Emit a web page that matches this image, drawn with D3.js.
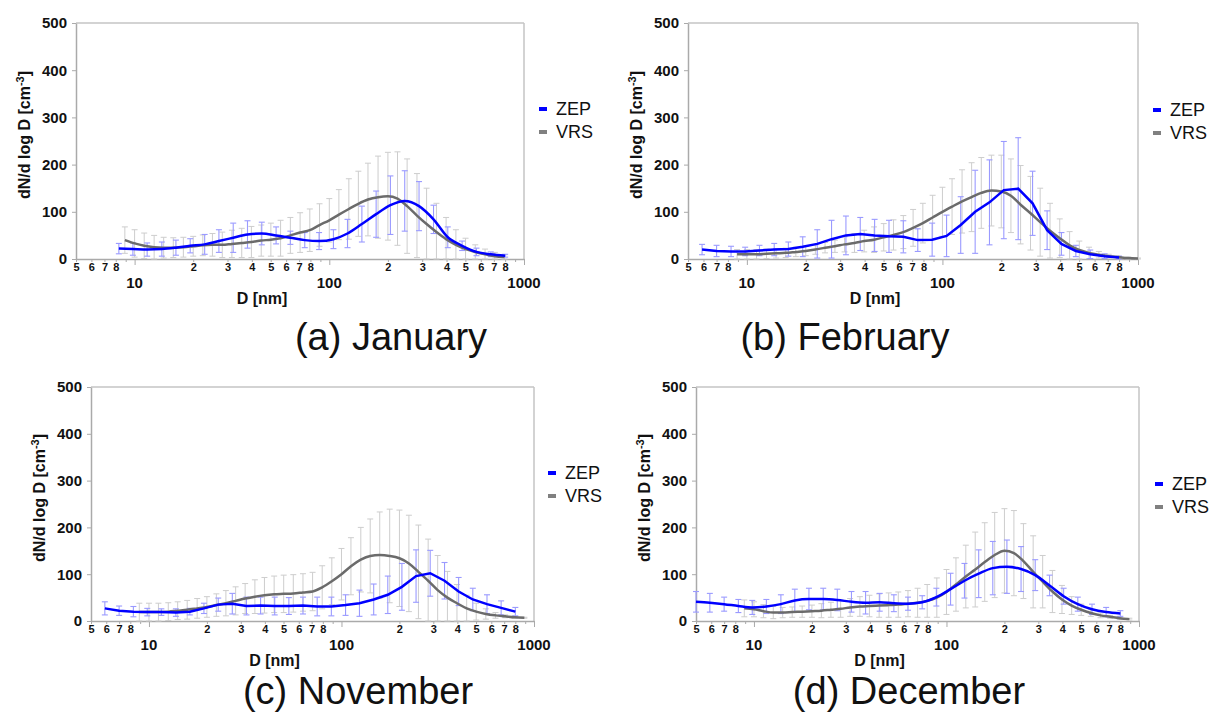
<!DOCTYPE html>
<html>
<head>
<meta charset="utf-8">
<script src="https://cdn.jsdelivr.net/npm/d3@7"></script>
<style>
body { margin: 0; background: #fff; }
svg text { font-family: "Liberation Sans", Arial, sans-serif; }
</style>
</head>
<body>
<div id="main_chart"></div>
<script>
// diameter bins [nm]
var zepD = [5.0, 5.9, 7.0, 8.3, 9.8, 11.6, 13.8, 16.3, 19.3, 22.9, 27.1, 32.1, 38.0, 45.0, 53.3, 63.1, 74.8, 88.6, 105, 124, 147, 174, 206, 244, 289, 343, 406, 481, 570, 675, 800];
var vrsD = [8.91, 10, 11.2, 12.6, 14.1, 15.8, 17.8, 20, 22.4, 25.1, 28.2, 31.6, 35.5, 39.8, 44.7, 50.1, 56.2, 63.1, 70.8, 79.4, 89.1, 100, 112, 126, 141, 158, 178, 200, 224, 251, 282, 316, 355, 398, 447, 501, 562, 631, 708, 794, 891, 1000];

// January
var janZepMean = [null, null, null, 22, 21, 20, 21, 24, 28, 31, 38, 45, 52, 54, 50, 45, 40, 38, 42, 54, 74, 95, 114, 123, 112, 84, 46, 28, 15, 10, 7];
var janZepSd = [null, null, null, 11, 13, 14, 15, 16, 15, 21, 24, 31, 29, 24, 18, 14, 16, 18, 20, 30, 38, 49, 62, 64, 52, 30, 22, 10, 8, 5, 3];
var janVrsMean = [40, 33, 28, 25, 24, 24, 25, 27, 29, 30, 30, 32, 34, 36, 39, 41, 44, 50, 56, 61, 72, 82, 94, 106, 117, 126, 131, 133, 128, 112, 92, 74, 57, 42, 30, 21, 15, 10, 6, 4, null, null];
var janVrsSd = [28, 29, 27, 25, 22, 21, 21, 21, 22, 24, 27, 29, 31, 33, 33, 35, 38, 38, 42, 45, 45, 46, 53, 64, 69, 77, 87, 93, 99, 100, 89, 76, 61, 46, 32, 23, 15, 11, 8, 5, null, null];

// February
var febZepMean = [null, 20, 17, 16, 16, 18, 20, 21, 26, 32, 42, 50, 53, 50, 48, 47, 40, 41, 49, 72, 100, 120, 146, 149, 118, 61, 32, 17, 10, 6, 3];
var febZepSd = [null, 11, 12, 11, 9, 11, 13, 15, 21, 30, 40, 41, 35, 34, 34, 34, 24, 35, 44, 60, 88, 90, 103, 108, 68, 41, 24, 12, 9, 5, 3];
var febVrsMean = [10, 10, 10, 11, 12, 13, 15, 17, 20, 24, 27, 31, 34, 38, 41, 46, 51, 57, 66, 76, 88, 100, 111, 122, 131, 140, 145, 143, 134, 115, 97, 78, 60, 44, 29, 19, 13, 9, 6, 4, 2, 1];
var febVrsSd = [10, 10, 10, 10, 10, 10, 10, 10, 10, 11, 13, 16, 20, 23, 27, 29, 32, 35, 39, 42, 47, 52, 59, 67, 73, 75, 75, 77, 78, 83, 78, 72, 58, 41, 29, 19, 12, 7, 4, 2, 2, 1];

// November
var novZepMean = [null, 27, 22, 20, 19, 19, 18, 20, 27, 35, 37, 32, 33, 32, 32, 33, 31, 31, 34, 38, 46, 56, 73, 96, 102, 86, 63, 46, 36, 28, 20];
var novZepSd = [null, 14, 10, 11, 8, 7, 8, 7, 11, 14, 22, 19, 18, 19, 18, 18, 20, 20, 22, 28, 33, 40, 50, 56, 49, 39, 30, 24, 20, 15, 9];
var novVrsMean = [19, 19, 19, 20, 22, 24, 27, 30, 34, 38, 43, 48, 52, 55, 57, 58, 59, 61, 63, 72, 85, 100, 117, 131, 139, 141, 139, 134, 123, 105, 86, 66, 50, 38, 27, 20, 15, 12, 10, 8, 7, null];
var novVrsSd = [19, 19, 19, 19, 19, 20, 21, 22, 24, 27, 30, 32, 36, 38, 39, 40, 40, 40, 41, 46, 50, 55, 61, 69, 79, 92, 100, 103, 103, 100, 89, 74, 56, 40, 28, 18, 11, 6, 3, 2, 1, null];

// December
var decZepMean = [41, 39, 36, 32, 29, 31, 36, 44, 47, 47, 45, 41, 39, 40, 38, 37, 40, 51, 68, 86, 101, 113, 116, 111, 98, 76, 53, 36, 25, 19, 16];
var decZepSd = [22, 20, 15, 14, 15, 15, 20, 24, 23, 23, 23, 22, 24, 19, 18, 14, 14, 19, 34, 37, 51, 57, 57, 48, 33, 22, 17, 15, 11, 10, 6];
var decVrsMean = [27, 25, 21, 18, 18, 19, 20, 21, 22, 24, 26, 29, 31, 32, 33, 34, 35, 37, 39, 43, 50, 62, 78, 95, 110, 126, 141, 150, 145, 128, 105, 84, 63, 46, 33, 24, 17, 12, 9, 6, 4, null];
var decVrsSd = [18, 16, 14, 13, 11, 11, 12, 13, 15, 16, 18, 19, 21, 23, 25, 26, 27, 28, 31, 35, 42, 48, 57, 67, 80, 84, 91, 90, 91, 80, 77, 56, 45, 30, 19, 12, 7, 5, 3, 3, 2, null];

var seriesNames = ["ZEP", "VRS"];
var yTicks = [0, 100, 200, 300, 400, 500];
var xTicks = [5, 6, 7, 8, 9, 10, 20, 30, 40, 50, 60, 70, 80, 90, 100, 200, 300, 400, 500, 600, 700, 800, 900, 1000];
var majorTicks = [10, 100, 1000];

var zepColor = "#0000ff";
var vrsColor = "#6b6b6b";

var panels = [
	{ caption: "(a) January", zm: janZepMean, zs: janZepSd, vm: janVrsMean, vs: janVrsSd,
		left: 76, right: 524, top: 23, bottom: 259, legX: 539, legY: 109, capX: 391, capY: 350, zepSmooth: true },
	{ caption: "(b) February", zm: febZepMean, zs: febZepSd, vm: febVrsMean, vs: febVrsSd,
		left: 688, right: 1138, top: 23, bottom: 259, legX: 1153, legY: 110, capX: 845, capY: 350, zepSmooth: false },
	{ caption: "(c) November", zm: novZepMean, zs: novZepSd, vm: novVrsMean, vs: novVrsSd,
		left: 91, right: 534, top: 387, bottom: 621, legX: 548, legY: 473, capX: 358, capY: 704, zepSmooth: false },
	{ caption: "(d) December", zm: decZepMean, zs: decZepSd, vm: decVrsMean, vs: decVrsSd,
		left: 696, right: 1139, top: 387, bottom: 621, legX: 1155, legY: 484, capX: 909, capY: 704, zepSmooth: true },
];

var svg = d3.select("#main_chart")
	.append("svg")
	.attr("width", 1216)
	.attr("height", 715);

function toPoints(diams, means, sds) {
	return diams.map(function (d, i) {
		return { d: d, m: means[i], s: sds[i] };
	}).filter(function (p) {
		return p.m != null;
	});
}

function leadDigit(v) {
	var p = Math.pow(10, Math.floor(Math.log10(v) + 1e-9));
	return Math.round(v / p);
}

function drawPanel(p) {
	var g = svg.append("g");
	var x = d3.scaleLog().domain([5, 1000]).range([p.left, p.right]);
	var y = d3.scaleLinear().domain([0, 500]).range([p.bottom, p.top]);

	// frame (top and right)
	g.append("line").attr("x1", p.left).attr("x2", p.right).attr("y1", p.top).attr("y2", p.top)
		.attr("stroke", "#c4c4c4").attr("stroke-width", 1.5);
	g.append("line").attr("x1", p.right).attr("x2", p.right).attr("y1", p.top).attr("y2", p.bottom)
		.attr("stroke", "#c4c4c4").attr("stroke-width", 1.5);

	// y axis
	var yAxis = g.append("g")
		.attr("transform", "translate(" + p.left + ",0)")
		.call(d3.axisLeft(y).tickValues(yTicks).tickSize(4).tickSizeOuter(0).tickPadding(5));
	yAxis.select(".domain").attr("stroke", "#aaa").attr("stroke-width", 1.5);
	yAxis.selectAll(".tick line").attr("stroke", "#aaa");
	yAxis.selectAll(".tick text")
		.attr("font-size", 15).attr("font-weight", "bold").attr("fill", "#111")
		.attr("font-family", "Liberation Sans, Arial, sans-serif");

	// x axis
	var xAxis = g.append("g")
		.attr("transform", "translate(0," + p.bottom + ")")
		.call(d3.axisBottom(x).tickValues(xTicks).tickSize(3).tickSizeOuter(0)
			.tickFormat(function (d) {
				var k = leadDigit(d);
				return k === 1 || k === 9 ? "" : k;
			}));
	xAxis.select(".domain").attr("stroke", "#aaa").attr("stroke-width", 1.5);
	xAxis.selectAll(".tick line")
		.attr("stroke", "#aaa")
		.attr("y2", function (d) { return leadDigit(d) === 1 ? 6 : 3; });
	xAxis.selectAll(".tick text")
		.attr("y", 4)
		.attr("font-size", 11).attr("font-weight", "bold").attr("fill", "#111")
		.attr("font-family", "Liberation Sans, Arial, sans-serif");

	g.selectAll(".major")
		.data(majorTicks)
		.enter()
		.append("text")
		.attr("x", function (d) { return x(d); })
		.attr("y", p.bottom + 29)
		.attr("text-anchor", "middle")
		.attr("font-size", 15).attr("font-weight", "bold").attr("fill", "#111")
		.text(function (d) { return d; });

	// axis titles
	g.append("text")
		.attr("x", (p.left + p.right) / 2 - 38)
		.attr("y", p.bottom + 45)
		.attr("text-anchor", "middle")
		.attr("font-size", 16).attr("font-weight", "bold").attr("fill", "#111")
		.text("D [nm]");

	var yt = g.append("text")
		.attr("transform", "translate(" + (p.left - 46) + "," + ((p.top + p.bottom) / 2 - 6) + ") rotate(-90)")
		.attr("text-anchor", "middle")
		.attr("font-size", 16).attr("font-weight", "bold").attr("fill", "#111");
	yt.append("tspan").text("dN/d log D [cm");
	yt.append("tspan").attr("dy", -6).attr("font-size", 11).text("-3");
	yt.append("tspan").attr("dy", 6).text("]");

	var zep = toPoints(zepD, p.zm, p.zs);
	var vrs = toPoints(vrsD, p.vm, p.vs);

	function errorBars(data, color, width) {
		var bars = g.append("g").selectAll("g").data(data).enter().append("g")
			.attr("stroke", color).attr("stroke-width", width);
		bars.append("line")
			.attr("x1", function (d) { return x(d.d); })
			.attr("x2", function (d) { return x(d.d); })
			.attr("y1", function (d) { return y(Math.max(0, d.m - d.s)); })
			.attr("y2", function (d) { return y(d.m + d.s); });
		bars.append("line")
			.attr("x1", function (d) { return x(d.d) - 3; })
			.attr("x2", function (d) { return x(d.d) + 3; })
			.attr("y1", function (d) { return y(d.m + d.s); })
			.attr("y2", function (d) { return y(d.m + d.s); });
		bars.append("line")
			.attr("x1", function (d) { return x(d.d) - 3; })
			.attr("x2", function (d) { return x(d.d) + 3; })
			.attr("y1", function (d) { return y(Math.max(0, d.m - d.s)); })
			.attr("y2", function (d) { return y(Math.max(0, d.m - d.s)); });
	}

	errorBars(vrs, "#cdcdcd", 1);
	errorBars(zep, "#9a9aff", 1.1);

	var vrsLine = d3.line()
		.x(function (d) { return x(d.d); })
		.y(function (d) { return y(d.m); })
		.curve(d3.curveMonotoneX);
	var zepLine = d3.line()
		.x(function (d) { return x(d.d); })
		.y(function (d) { return y(d.m); })
		.curve(p.zepSmooth ? d3.curveMonotoneX : d3.curveLinear);

	g.append("path").attr("d", vrsLine(vrs))
		.attr("fill", "none").attr("stroke", vrsColor).attr("stroke-width", 2.5);
	g.append("path").attr("d", zepLine(zep))
		.attr("fill", "none").attr("stroke", zepColor).attr("stroke-width", 2.5);

	// legend
	var leg = g.selectAll(".leg").data(seriesNames).enter().append("g")
		.attr("transform", function (d, i) { return "translate(" + p.legX + "," + (p.legY + i * 23) + ")"; });
	leg.append("rect")
		.attr("x", 0).attr("y", -2).attr("width", 8).attr("height", 4)
		.attr("fill", function (d, i) { return i === 0 ? zepColor : "#808080"; });
	leg.append("text")
		.attr("x", 17).attr("dy", "0.36em")
		.attr("font-size", 18).attr("fill", "#111")
		.text(function (d) { return d; });

	// caption
	g.append("text")
		.attr("x", p.capX).attr("y", p.capY)
		.attr("text-anchor", "middle")
		.attr("font-size", 38).attr("fill", "#111")
		.text(p.caption);
}

panels.forEach(drawPanel);
</script>
</body>
</html>
